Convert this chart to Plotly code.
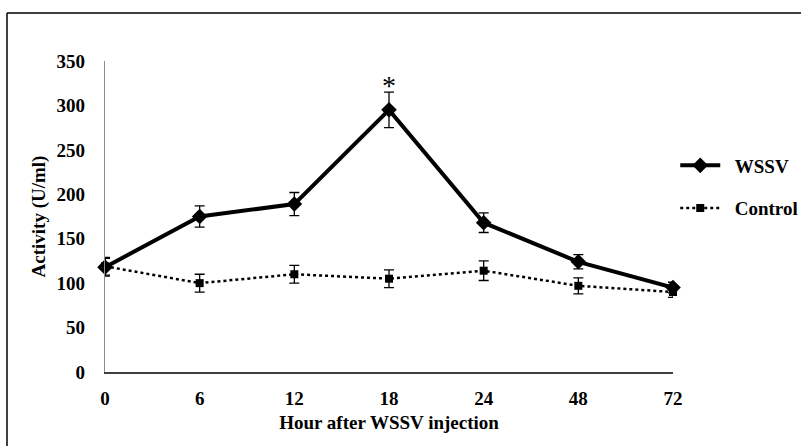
import plotly.graph_objects as go

hours = ["0", "6", "12", "18", "24", "48", "72"]
wssv = [118, 175, 189, 295, 168, 124, 95]
wssv_err = [10, 12, 13, 20, 11, 8, 6]
control = [119, 100, 110, 105, 114, 97, 90]
control_err = [10, 10, 10, 10, 11, 9, 6]
y_ticks = [0, 50, 100, 150, 200, 250, 300, 350]
star_hour = "18"

FONT = "Liberation Serif"
FS = 19
PAD = "&nbsp;&nbsp;"

fig = go.Figure()
fig.add_trace(go.Scatter(
    x=hours, y=control, name=PAD + "Control", mode="lines+markers",
    line=dict(color="black", width=2.5, dash="dot"),
    marker=dict(symbol="square", size=8, color="black"),
    error_y=dict(type="data", array=control_err, color="black", thickness=1.3, width=5),
    cliponaxis=False, legendgroup="c", legendrank=2,
))
fig.add_trace(go.Scatter(
    x=hours, y=wssv, name=PAD + "WSSV", mode="lines+markers",
    line=dict(color="black", width=4),
    marker=dict(symbol="diamond", size=12, color="black"),
    error_y=dict(type="data", array=wssv_err, color="black", thickness=1.3, width=5),
    cliponaxis=False, legendgroup="w", legendrank=1,
))

si = hours.index(star_hour)
fig.add_annotation(x=si, y=wssv[si] + wssv_err[si], text="*", showarrow=False,
                   xref="x", yref="y", yanchor="bottom", yshift=-11,
                   font=dict(family=FONT, size=28, color="black", weight="normal"))

# partial frame (top and left) like the reference
L, R, T, B = 105, 673, 61, 371.7
W, H = R - L, B - T
fig.add_shape(type="line", xref="paper", yref="paper",
              x0=(7 - L) / W, x1=(801 - L) / W,
              y0=(B - 13) / H, y1=(B - 13) / H,
              line=dict(color="black", width=1.5))
fig.add_shape(type="line", xref="paper", yref="paper",
              x0=(7 - L) / W, x1=(7 - L) / W,
              y0=(B - 13) / H, y1=(B - 446) / H,
              line=dict(color="black", width=1.5))

fig.update_layout(
    width=801, height=446,
    margin=dict(l=L, r=801 - R, t=T, b=446 - B),
    paper_bgcolor="white", plot_bgcolor="white",
    font=dict(family=FONT, size=FS, color="black", weight="bold"),
    showlegend=True,
    legend=dict(xref="container", yref="container", x=0.843, y=0.6715,
                xanchor="left", yanchor="top",
                traceorder="grouped", tracegroupgap=15,
                font=dict(family=FONT, size=FS, color="black", weight="bold"),
                itemwidth=40, bgcolor="rgba(0,0,0,0)"),
    xaxis=dict(
        type="category", categoryorder="array", categoryarray=hours,
        range=[0, 6], showgrid=False, zeroline=False, automargin=False,
        showline=True, linecolor="#404040", linewidth=1.5,
        ticks="", ticklabelstandoff=8,
        tickfont=dict(family=FONT, size=FS, color="black", weight="bold"),
        title=dict(text="Hour after WSSV injection", standoff=8,
                   font=dict(family=FONT, size=FS, color="black", weight="bold")),
    ),
    yaxis=dict(
        range=[0, 350], tickvals=y_ticks, showgrid=False, zeroline=False, automargin=False,
        showline=True, linecolor="#8c8c8c", linewidth=1.2,
        ticks="", ticklabelstandoff=15,
        tickfont=dict(family=FONT, size=FS, color="black", weight="bold"),
        title=dict(text="Activity (U/ml)", standoff=5,
                   font=dict(family=FONT, size=FS, color="black", weight="bold")),
    ),
)

fig.write_html("out.html", config={"displayModeBar": False},
               post_script="document.body.style.margin='0';")
